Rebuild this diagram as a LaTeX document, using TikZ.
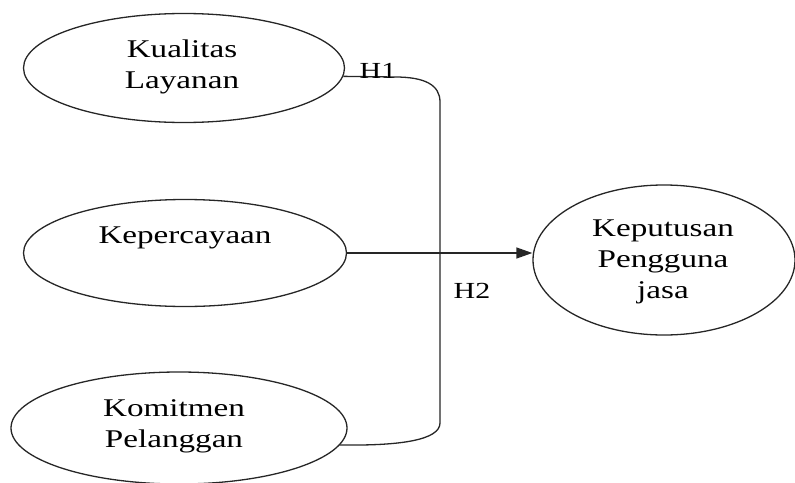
\documentclass[tikz,border=0pt]{standalone}
\usepackage{fontspec}
\setmainfont[FakeStretch=1.3]{Liberation Serif}
\usetikzlibrary{shapes.geometric,arrows.meta}
\begin{document}
\begin{tikzpicture}[x=1pt,y=-1pt,
  oval/.style={draw=black!85, line width=1.3pt, ellipse, inner sep=0pt},
  lbl/.style={align=center, inner sep=0pt, font=\fontsize{25.5}{31}\selectfont},
  hlbl/.style={inner sep=0pt, anchor=base, font=\fontsize{23}{28}\selectfont},
  conn/.style={draw=black!85, line width=1.3pt}
]
\useasboundingbox (0,0) rectangle (795,482);
% ellipses
\node[oval, minimum width=321pt, minimum height=109pt] (e1) at (184,68) {};
\node[oval, minimum width=323pt, minimum height=107pt] (e2) at (185,253) {};
\node[oval, minimum width=336pt, minimum height=112pt] (e3) at (179,428) {};
\node[oval, minimum width=262pt, minimum height=150pt] (e4) at (664,260) {};
% texts
\node[lbl] (t1) at (182,67) {Kualitas\\Layanan};
\node[lbl] (t2) at (185,238) {Kepercayaan};
\node[lbl] (t3) at (174,426) {Komitmen\\Pelanggan};
\node[lbl] (t4) at (663,262) {Keputusan\\Pengguna\\jasa};
% connectors
\coordinate (vtop) at (440,102);
\coordinate (vbot) at (440,423);
\draw[conn] (e1.-3) -- (395,77) .. controls (425,77) and (440,85) .. (vtop)
  -- (vbot) .. controls (440,440) and (400,446) .. (e3.-6.5);
\draw[conn, -{Triangle[length=16pt,width=11pt]}] (e2.east) -- (e2.east -| e4.west);
% hypothesis labels
\node[hlbl] (h1) at (378,78) {H1};
\node[hlbl] (h2) at (472,298) {H2};
\end{tikzpicture}
\end{document}
